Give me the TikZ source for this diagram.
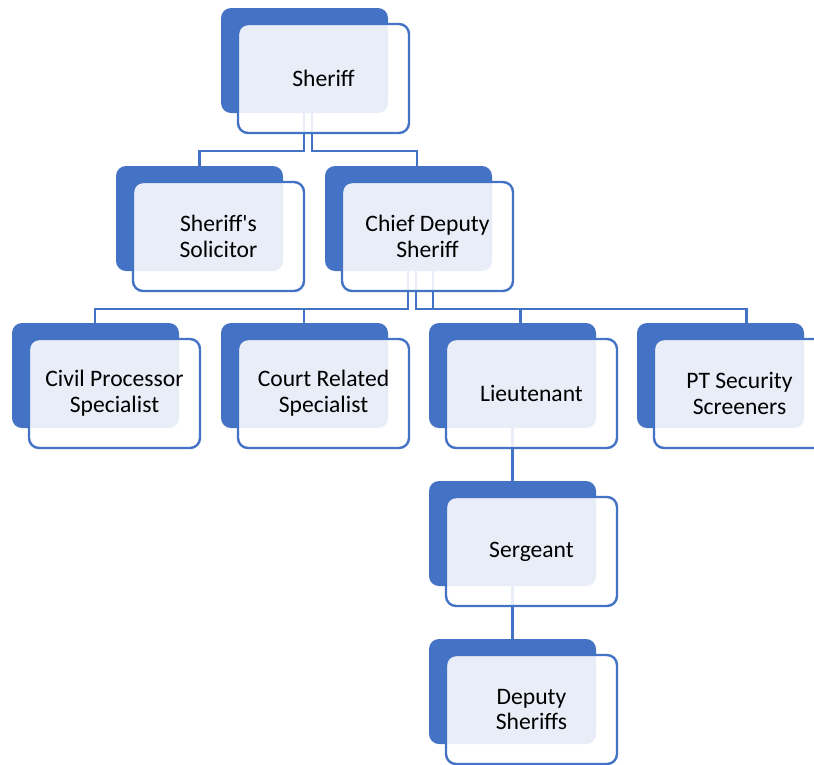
\documentclass[tikz,border=0pt]{standalone}
\usepackage{fontspec}
\setmainfont{Carlito}
\definecolor{orgblue}{HTML}{4472C4}
\begin{document}
\begin{tikzpicture}[x=1pt,y=-1pt,
  backbox/.style={fill=orgblue,draw=none,rounded corners=10pt,anchor=north west,
    minimum width=167pt,minimum height=105pt,inner sep=0pt,outer sep=0pt},
  frontbox/.style={draw=orgblue,line width=2.4pt,fill=white,fill opacity=0.88,
    text opacity=1,draw opacity=1,rounded corners=10pt,anchor=north west,
    minimum width=171pt,minimum height=109pt,inner sep=0pt,outer sep=0pt,
    align=center,font=\fontsize{23.6}{25.8}\selectfont},
  conn/.style={draw=orgblue,line width=2.4pt}]
\clip (0,0) rectangle (814,764);
\fill[white] (0,0) rectangle (814,764);

% back plates
\node[backbox] (sheriffB)   at (221,8)   {};
\node[backbox] (solicitorB) at (116,166) {};
\node[backbox] (chiefB)     at (325,166) {};
\node[backbox] (civilB)     at (12,323)  {};
\node[backbox] (courtB)     at (221,323) {};
\node[backbox] (lieutB)     at (429,323) {};
\node[backbox] (ptB)        at (637,323) {};
\node[backbox] (sergB)      at (429,481) {};
\node[backbox] (deputyB)    at (429,639) {};

% elbow connectors (drawn under the front cards)
\draw[conn] ([xshift=-0.5pt]sheriffB.south) -- ++(0,38) -| (solicitorB.north);
\draw[conn] ([xshift=7.5pt]sheriffB.south) -- ++(0,38) -| ([xshift=8.5pt]chiefB.north);
\draw[conn] ([xshift=-0.5pt]chiefB.south) -- ++(0,38) -| ([xshift=-0.3pt]civilB.north);
\draw[conn] ([xshift=-0.5pt]chiefB.south) -- ++(0,38) -| ([xshift=-0.5pt]courtB.north);
\draw[conn] ([xshift=7.5pt]chiefB.south) -- ++(0,38) -| ([xshift=8pt]lieutB.north);
\draw[conn] ([xshift=24.5pt]chiefB.south) -- ++(0,38) -| ([xshift=26pt]ptB.north);
\draw[conn] (lieutB.south) -- (sergB.north);
\draw[conn] (sergB.south) -- (deputyB.north);

% front cards with the titles
\node[frontbox] (sheriff)   at (238,24)  {Sheriff};
\node[frontbox] (solicitor) at (133,182) {Sheriff\textquotesingle s\\Solicitor};
\node[frontbox] (chief)     at (342,182) {Chief Deputy\\Sheriff};
\node[frontbox] (civil)     at (29,339)  {Civil Processor\\Specialist};
\node[frontbox] (court)     at (238,339) {Court Related\\Specialist};
\node[frontbox] (lieut)     at (446,339) {Lieutenant};
\node[frontbox] (pt)        at (654,339) {PT Security\\Screeners};
\node[frontbox] (serg)      at (446,497) {Sergeant};
\node[frontbox] (deputy)    at (446,655) {Deputy\\Sheriffs};
\end{tikzpicture}
\end{document}
